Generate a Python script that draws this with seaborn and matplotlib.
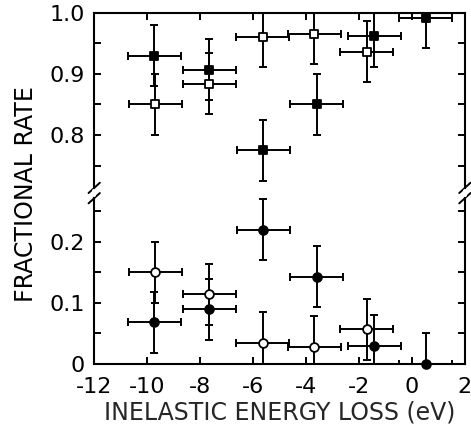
import numpy as np
import pandas as pd
import matplotlib as mpl
import matplotlib.pyplot as plt
import seaborn as sns

# data (x in eV, y = fractional rate, errors +/-)
x_filled = [-9.74, -7.65, -5.62, -3.60, -1.43, 0.53]
x_open = [-9.69, -7.65, -5.64, -3.69, -1.70]
sq_filled = [0.930, 0.907, 0.775, 0.850, 0.962, 0.992]
sq_open = [0.850, 0.884, 0.961, 0.966, 0.936]
ci_filled = [0.068, 0.090, 0.220, 0.143, 0.030, 0.0]
ci_open = [0.150, 0.114, 0.035, 0.028, 0.057]
xerr = 1.0
yerr = 0.05

xticks = [-12, -10, -8, -6, -4, -2, 0, 2]
xtick_labels = ["-12", "-10", "-8", "-6", "-4", "-2", "0", "2"]
top_ticks = [0.8, 0.9, 1.0]
top_labels = ["0.8", "0.9", "1.0"]
bot_ticks = [0.0, 0.1, 0.2]
bot_labels = ["0", "0.1", "0.2"]

sns.set_style("ticks")
plt.rcParams['font.family'] = ['DejaVu Sans']
plt.rcParams['axes.unicode_minus'] = False
plt.rcParams['text.color'] = 'black'
plt.rcParams['xtick.color'] = 'black'
plt.rcParams['ytick.color'] = 'black'
plt.rcParams['axes.edgecolor'] = 'black'

fig = plt.figure(figsize=(4.71, 4.29), dpi=100)
ax_top = fig.add_axes([0.2, 0.55, 0.787, 0.42])
ax_bot = fig.add_axes([0.2, 0.1515, 0.787, 0.3985])

def draw(ax, xs, ys, marker, face):
    ax.errorbar(xs, ys, xerr=xerr, yerr=yerr, fmt='none', ecolor='black',
                elinewidth=1.4, capsize=3, capthick=1.4, zorder=2)
    d = pd.DataFrame({"x": xs, "y": ys})
    sns.scatterplot(data=d, x="x", y="y", ax=ax, marker=marker, s=40,
                    color=face, edgecolor='black', linewidth=1.3, zorder=3,
                    clip_on=False)

draw(ax_top, x_filled, sq_filled, 's', 'black')
draw(ax_top, x_open, sq_open, 's', 'white')
draw(ax_bot, x_filled, ci_filled, 'o', 'black')
draw(ax_bot, x_open, ci_open, 'o', 'white')

ax_top.set_ylim(0.705, 1.0)
ax_bot.set_ylim(0.0, 0.28)
for ax in (ax_top, ax_bot):
    ax.set_xlim(-12, 2)
    ax.set_xlabel("")
    ax.set_ylabel("")
    for s in ax.spines.values():
        s.set_linewidth(1.5)
    ax.tick_params(direction='in', length=5, width=1.4, labelsize=16,
                   right=True, pad=7)
    ax.tick_params(which='minor', direction='in', length=5, width=1.4,
                   right=True)

ax_top.spines['bottom'].set_visible(False)
ax_bot.spines['top'].set_visible(False)
ax_top.tick_params(axis='x', bottom=False, top=True, labelbottom=False)
ax_top.set_xticks(xticks)
ax_top.set_yticks(top_ticks)
ax_top.set_yticklabels(top_labels)
ax_top.set_yticks([0.75, 0.85, 0.95], minor=True)

ax_bot.tick_params(axis='x', top=False, pad=9)
ax_bot.set_xticks(xticks)
ax_bot.set_xticklabels(xtick_labels)
ax_bot.set_yticks(bot_ticks)
ax_bot.set_yticklabels(bot_labels)
ax_bot.set_yticks([0.05, 0.15, 0.25], minor=True)

# axis break marks
d = 0.012
for xpos in (0, 1):
    for dy in (-0.012, 0.012):
        fig.add_artist(plt.Line2D(
            [0.2 + xpos * 0.787 - d, 0.2 + xpos * 0.787 + d],
            [0.55 + dy - d, 0.55 + dy + d], color='black', lw=1.4))
    fig.add_artist(plt.Line2D(
        [0.2 + xpos * 0.787, 0.2 + xpos * 0.787], [0.545, 0.555],
        color='white', lw=3))

ax_bot.set_xlabel("INELASTIC ENERGY LOSS (eV)", fontsize=17, labelpad=3)
fig.text(0.055, 0.548, "FRACTIONAL RATE", rotation=90, va='center',
         ha='center', fontsize=17)

fig.savefig("out.png", dpi=100)
